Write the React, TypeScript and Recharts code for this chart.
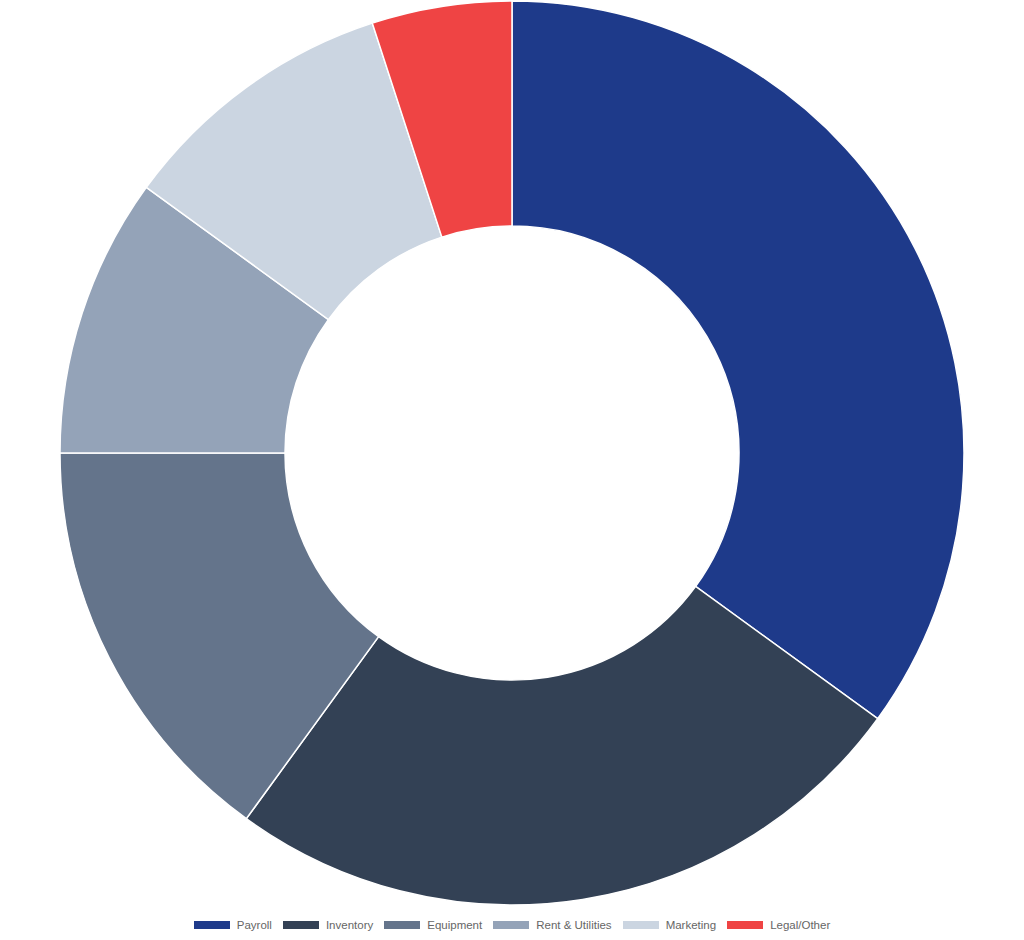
import { PieChart, Pie, Cell, Legend } from "recharts";

const categories = ["Payroll", "Inventory", "Equipment", "Rent & Utilities", "Marketing", "Legal/Other"];
const shares = [35, 25, 15, 10, 10, 5];
const colors = ["#1e3a8a", "#334155", "#64748b", "#94a3b8", "#cbd5e1", "#ef4444"];

const data = categories.map((name, i) => ({ name, value: shares[i] }));

function LegendRow() {
  return (
    <div style={{ display: "flex", justifyContent: "center", alignItems: "center", fontFamily: "'Liberation Sans', Arial, sans-serif", fontSize: 11.5, color: "#666" }}>
      {categories.map((name, i) => (
        <div key={name} style={{ display: "flex", alignItems: "center", marginRight: i < categories.length - 1 ? 11 : 0 }}>
          <span style={{ display: "inline-block", width: 36, height: 8, background: colors[i], marginRight: 7 }} />
          <span>{name}</span>
        </div>
      ))}
    </div>
  );
}

export default function App() {
  return (
    <div style={{ position: "absolute", left: 0, top: 0, background: "#fff" }}>
      <PieChart width={1024} height={940} margin={{ top: 0, right: 0, bottom: 0, left: 0 }}>
        <Pie
          data={data}
          dataKey="value"
          nameKey="name"
          cx={512}
          cy={453}
          innerRadius={227}
          outerRadius={452}
          startAngle={90}
          endAngle={-270}
          stroke="#fff"
          strokeWidth={1.5}
          isAnimationActive={false}
        >
          {data.map((_, i) => (
            <Cell key={i} fill={colors[i]} />
          ))}
        </Pie>
        <Legend verticalAlign="bottom" content={() => <LegendRow />} wrapperStyle={{ bottom: 9 }} />
      </PieChart>
    </div>
  );
}
